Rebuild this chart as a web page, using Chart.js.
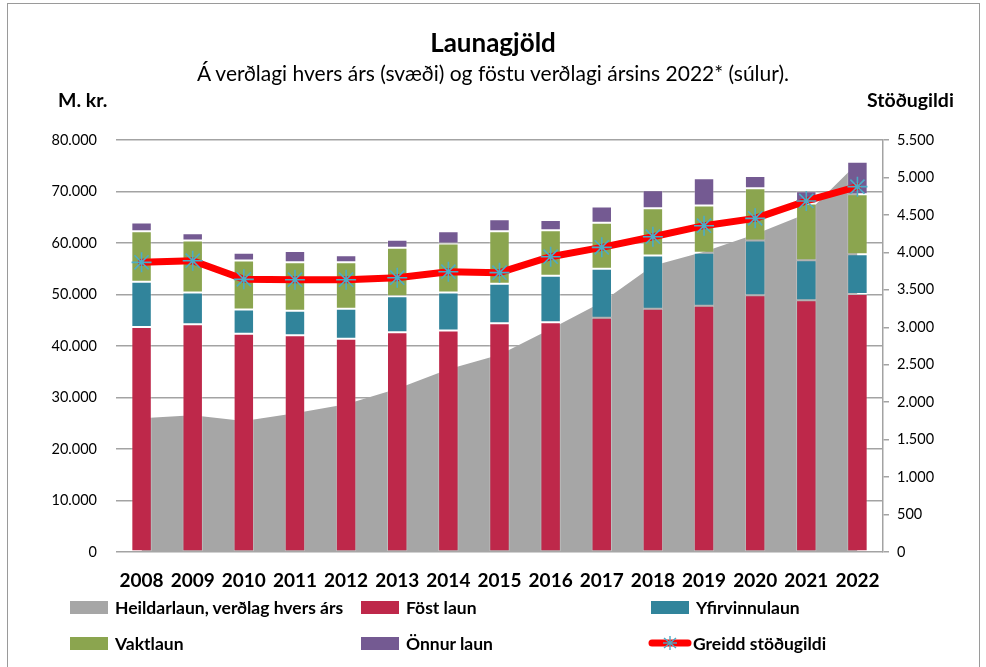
<!DOCTYPE html>
<html lang="is">
<head>
<meta charset="utf-8">
<title>Launagjöld</title>
<script src="https://cdn.jsdelivr.net/npm/chart.js@4/dist/chart.umd.min.js"></script>
<style>
  html, body { margin: 0; padding: 0; background: #fff; }
  body { width: 986px; height: 667px; position: relative; overflow: hidden; font-family: Lato, "Open Sans", sans-serif; color: #000; }
  #frame { position: absolute; left: 7px; top: 3px; width: 973px; height: 700px; border: 1.5px solid #9a9a9a; box-sizing: border-box; }
  #wrap { position: absolute; left: 0; top: 0; width: 986px; height: 667px; }
  .txt { position: absolute; white-space: nowrap; line-height: 1; }
  #title { left: 0; width: 986px; text-align: center; top: 29px; font-size: 26px; font-weight: bold; }
  #subtitle { left: 0; width: 986px; text-align: center; top: 62px; font-size: 21px; }
  #yLeftTitle { left: 58px; top: 90px; font-size: 19.5px; font-weight: bold; }
  #yRightTitle { left: 867px; top: 90px; font-size: 19.5px; font-weight: bold; }
  #legend { position: absolute; left: 0; top: 0; width: 986px; height: 667px; pointer-events: none; }
  .item { position: absolute; display: flex; align-items: center; font-size: 17.5px; font-weight: bold; white-space: nowrap; }
  .sw { width: 38px; height: 13px; margin-right: 7px; }
  .swl { width: 44px; height: 16px; margin-right: 1px; }
</style>
</head>
<body>
<div id="frame"></div>
<div id="wrap"><canvas id="chart" width="986" height="667"></canvas></div>
<div class="txt" id="title">Launagjöld</div>
<div class="txt" id="subtitle">Á verðlagi hvers árs (svæði) og föstu verðlagi ársins 2022* (súlur).</div>
<div class="txt" id="yLeftTitle">M. kr.</div>
<div class="txt" id="yRightTitle">Stöðugildi</div>
<div id="legend"></div>
<script>
// Ár
const years = ['2008','2009','2010','2011','2012','2013','2014','2015','2016','2017','2018','2019','2020','2021','2022'];

// Heildarlaun á verðlagi hvers árs, m. kr. (svæði)
const heildarlaun = [25960, 26540, 25430, 26950, 28700, 31700, 35500, 38300, 43300, 48500, 55600, 58300, 61700, 65700, 75500];

// Launaliðir á föstu verðlagi 2022, m. kr. (staflaðar súlur)
const fostLaun      = [43700, 44200, 42400, 42100, 41400, 42650, 43000, 44400, 44600, 45500, 47250, 47800, 49850, 48900, 50100];
const yfirvinnulaun = [ 8800,  6200,  4700,  4750,  5850,  7000,  7400,  7700,  9050,  9500, 10300, 10300, 10650,  7750,  7700];
const vaktlaun      = [ 9800, 10100,  9500,  9400,  9000,  9450,  9500, 10200,  8850,  8950,  9200,  9200, 10150, 11000, 11650];
const onnurLaun     = [ 1700,  1400,  1500,  2200,  1350,  1550,  2400,  2300,  1950,  3150,  3500,  5250,  2350,  2400,  6350];

// Greidd stöðugildi (hægri ás)
const stodugildi = [3867, 3889, 3640, 3635, 3635, 3662, 3742, 3729, 3942, 4067, 4209, 4356, 4454, 4686, 4877];

// Ásar
const leftAxis  = { min: 0, max: 80000, step: 10000 };
const rightAxis = { min: 0, max: 5500, step: 500 };

const fmt = v => Number(v).toLocaleString('de-DE');

const C = {
  heild: '#A6A6A6',
  fost: '#BE284A',
  yfir: '#31849B',
  vakt: '#8BA54F',
  onnur: '#745A92',
  line: '#FF0000',
  marker: '#4BACC6',
  grid: '#A3A3A3'
};

const barBase = { type: 'bar', stack: 'laun', yAxisID: 'y', order: 2,
  barPercentage: 0.4, categoryPercentage: 1.0, borderWidth: 1, borderColor: 'rgba(255,255,255,0.25)', borderSkipped: false };

const datasets = [
  { type: 'line', label: 'Heildarlaun, verðlag hvers árs', data: heildarlaun, yAxisID: 'y', stack: 'heild', order: 3,
    fill: 'origin', backgroundColor: C.heild, borderColor: C.heild, borderWidth: 0, pointRadius: 0, tension: 0 },
  Object.assign({}, barBase, { label: 'Föst laun', data: fostLaun, backgroundColor: C.fost }),
  Object.assign({}, barBase, { label: 'Yfirvinnulaun', data: yfirvinnulaun, backgroundColor: C.yfir }),
  Object.assign({}, barBase, { label: 'Vaktlaun', data: vaktlaun, backgroundColor: C.vakt }),
  Object.assign({}, barBase, { label: 'Önnur laun', data: onnurLaun, backgroundColor: C.onnur }),
  { type: 'line', label: 'Greidd stöðugildi', data: stodugildi, yAxisID: 'y1', order: 1,
    fill: false, borderColor: C.line, borderWidth: 7, borderCapStyle: 'round', borderJoinStyle: 'round', tension: 0,
    pointStyle: 'star', pointRadius: 10, pointBorderColor: C.marker, pointBackgroundColor: C.marker, pointBorderWidth: 1.6 }
];

const tickFont = { family: 'Lato, "Open Sans", sans-serif', size: 14.5 };

new Chart(document.getElementById('chart'), {
  data: { labels: years, datasets },
  options: {
    responsive: false,
    animation: false,
    events: [],
    layout: { padding: { left: 0, right: 0, top: 140, bottom: 75 } },
    plugins: { legend: { display: false }, title: { display: false }, tooltip: { enabled: false } },
    scales: {
      x: {
        stacked: true,
        offset: true,
        grid: { display: false, drawTicks: false },
        border: { display: false },
        ticks: { color: '#000', font: { family: tickFont.family, size: 19, weight: 'bold' }, padding: 17, maxRotation: 0, autoSkip: false },
        afterFit: s => { s.height = 40; }
      },
      y: {
        stacked: true,
        position: 'left',
        min: leftAxis.min, max: leftAxis.max,
        grid: { color: C.grid, lineWidth: 1.5, drawTicks: false },
        border: { display: false },
        ticks: { stepSize: leftAxis.step, color: '#000', font: tickFont, padding: 19, callback: v => fmt(v) },
        afterFit: s => { s.width = 116; }
      },
      y1: {
        position: 'right',
        min: rightAxis.min, max: rightAxis.max,
        grid: { drawOnChartArea: false, color: C.grid, lineWidth: 1.5, tickLength: 6 },
        border: { display: true, color: C.grid, width: 1.5 },
        ticks: { stepSize: rightAxis.step, color: '#000', font: tickFont, padding: 8, callback: v => fmt(v) },
        afterFit: s => { s.width = 103; }
      }
    }
  }
});

// Skýringar í þremur dálkum
const legendPos = [
  { i: 0, x: 70,  y: 607 },
  { i: 1, x: 361, y: 607 },
  { i: 2, x: 651, y: 607 },
  { i: 3, x: 70,  y: 643 },
  { i: 4, x: 361, y: 643 },
  { i: 5, x: 648, y: 643 }
];
const legend = document.getElementById('legend');
legendPos.forEach(p => {
  const ds = datasets[p.i];
  const el = document.createElement('div');
  el.className = 'item';
  el.style.left = p.x + 'px';
  el.style.top = (p.y - 10) + 'px';
  el.style.height = '20px';
  let sw;
  if (ds.yAxisID === 'y1') {
    sw = document.createElementNS('http://www.w3.org/2000/svg', 'svg');
    sw.setAttribute('class', 'swl');
    sw.setAttribute('viewBox', '0 0 44 16');
    sw.innerHTML =
      '<line x1="4" y1="8" x2="40" y2="8" stroke="' + C.line + '" stroke-width="7" stroke-linecap="round"/>' +
      '<g stroke="' + C.marker + '" stroke-width="1.4">' +
      '<line x1="22" y1="1" x2="22" y2="15"/><line x1="16" y1="3" x2="28" y2="13"/>' +
      '<line x1="16" y1="13" x2="28" y2="3"/><line x1="15" y1="8" x2="29" y2="8"/></g>';
  } else {
    sw = document.createElement('div');
    sw.className = 'sw';
    sw.style.background = ds.backgroundColor;
  }
  el.appendChild(sw);
  const t = document.createElement('span');
  t.textContent = ds.label;
  el.appendChild(t);
  legend.appendChild(el);
});
</script>
</body>
</html>
